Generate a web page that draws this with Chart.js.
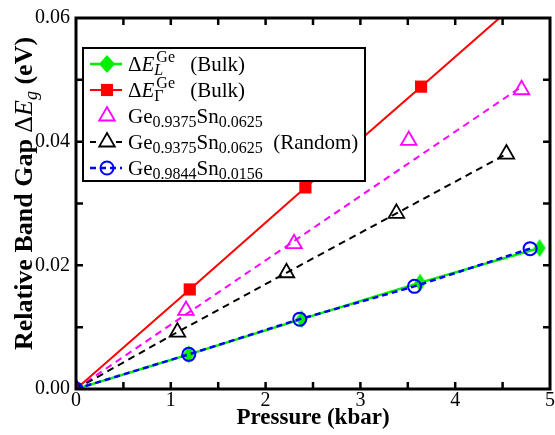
<!DOCTYPE html>
<html><head><meta charset="utf-8">
<script src="https://cdn.jsdelivr.net/npm/chart.js@4.4.1/dist/chart.umd.min.js"></script>
<style>html,body{margin:0;padding:0;background:#fff;}canvas{display:block;}</style>
</head><body>
<canvas id="c" width="555" height="435"></canvas>
<script>
// ---- data ----
const pressureL = [0, 1.19, 2.38, 3.63, 4.89];
const gapL      = [0, 0.0056, 0.0113, 0.0172, 0.0228];
const pressureG = [0, 1.20, 2.42, 3.64, 4.87];
const gapG      = [0, 0.0161, 0.0326, 0.0489, 0.0654];
const pressureA = [0, 1.16, 2.30, 3.51, 4.70];
const gapA      = [0, 0.0127, 0.0235, 0.0402, 0.0484];
const pressureAFit = [0, 4.70];
const gapAFit      = [0, 0.0489];
const pressureR = [0, 1.07, 2.22, 3.38, 4.54];
const gapR      = [0, 0.0092, 0.0188, 0.0284, 0.0380];
const pressureB = [0, 1.19, 2.36, 3.57, 4.79];
const gapB      = [0, 0.0056, 0.0113, 0.0166, 0.0227];
const xTickLabels = [0, 1, 2, 3, 4, 5];
const yTickLabels = [0, 0.02, 0.04, 0.06];

const SERIF = "'Liberation Serif', 'Times New Roman', serif";
const pts = (xs, ys) => xs.map((x, i) => ({x, y: ys[i]}));

function diamondImg(hw, hh, color) {
  const c = document.createElement('canvas');
  c.width = 2 * hw + 2; c.height = 2 * hh + 2;
  const g = c.getContext('2d');
  g.fillStyle = color;
  g.beginPath();
  g.moveTo(hw + 1, 1); g.lineTo(2 * hw + 1, hh + 1);
  g.lineTo(hw + 1, 2 * hh + 1); g.lineTo(1, hh + 1);
  g.closePath(); g.fill();
  return c;
}
const GREEN = '#00f000';
const diamond = diamondImg(6, 9, GREEN);
const diamondLeg = diamondImg(8, 9, GREEN);

const datasets = [
  {label: 'L', data: pts(pressureL, gapL), borderColor: GREEN, borderWidth: 2.5,
   pointStyle: diamond, pointRadius: 8, backgroundColor: GREEN, order: 6},
  {label: 'G', data: pts(pressureG, gapG), borderColor: '#ff0000', borderWidth: 2,
   pointStyle: 'rect', pointRadius: 8.6, pointBackgroundColor: '#ff0000', pointBorderWidth: 0, order: 5},
  {label: 'Afit', data: pts(pressureAFit, gapAFit), borderColor: '#ff00ff', borderWidth: 2,
   borderDash: [7, 5], pointRadius: 0, order: 4},
  {label: 'A', data: pts(pressureA, gapA), showLine: false, borderColor: '#ff00ff',
   pointStyle: 'triangle', pointRadius: 9, pointBorderWidth: 1.8,
   pointBackgroundColor: 'rgba(0,0,0,0)', pointBorderColor: '#ff00ff', order: 3},
  {label: 'R', data: pts(pressureR, gapR), borderColor: '#000000', borderWidth: 2,
   borderDash: [7, 5], pointStyle: 'triangle', pointRadius: 9, pointBorderWidth: 1.8,
   pointBackgroundColor: 'rgba(0,0,0,0)', pointBorderColor: '#000000', order: 2},
  {label: 'B', data: pts(pressureB, gapB), borderColor: '#0000ff', borderWidth: 2.5,
   borderDash: [6, 4], pointStyle: 'circle', pointRadius: 6.5, pointBorderWidth: 2,
   pointBackgroundColor: 'rgba(0,0,0,0)', pointBorderColor: '#0000ff', order: 1}
];

// ---- rich text helper (sub/superscripts) ----
function font(size, italic, bold) {
  return (italic ? 'italic ' : '') + (bold ? 'bold ' : '') + size + 'px ' + SERIF;
}
function drawRich(ctx, x, y, parts, main, script, measureOnly) {
  let cx = x;
  for (const p of parts) {
    if (p.gap) cx += p.gap;
    if (p.t !== undefined) {
      ctx.font = font(main, p.i, p.b);
      if (!measureOnly) ctx.fillText(p.t, cx, y);
      cx += ctx.measureText(p.t).width;
    } else {
      let w = 0;
      if (p.sup) {
        ctx.font = font(script, false, false);
        if (!measureOnly) ctx.fillText(p.sup, cx + 2, y - main * 0.42);
        w = Math.max(w, ctx.measureText(p.sup).width + 2);
      }
      if (p.sub) {
        ctx.font = font(script, p.si, false);
        if (!measureOnly) ctx.fillText(p.sub, cx, y + main * 0.2);
        w = Math.max(w, ctx.measureText(p.sub).width);
      }
      cx += w;
    }
  }
  return cx - x;
}

const legendRows = [
  {ds: 0, line: 'solid', parts: [{t: 'Δ'}, {t: 'E', i: true}, {sup: 'Ge', sub: 'L', si: true}, {t: ' (Bulk)', gap: 10}]},
  {ds: 1, line: 'solid', parts: [{t: 'Δ'}, {t: 'E', i: true}, {sup: 'Ge', sub: 'Γ'}, {t: ' (Bulk)', gap: 10}]},
  {ds: 3, line: 'none',  parts: [{t: 'Ge'}, {sub: '0.9375'}, {t: 'Sn'}, {sub: '0.0625'}]},
  {ds: 4, line: 'ends',  parts: [{t: 'Ge'}, {sub: '0.9375'}, {t: 'Sn'}, {sub: '0.0625'}, {t: '  (Random)'}]},
  {ds: 5, line: 'dash',  parts: [{t: 'Ge'}, {sub: '0.9844'}, {t: 'Sn'}, {sub: '0.0156'}]}
];

const decor = {
  id: 'decor',
  afterDatasetsDraw(chart) {
    const {ctx, chartArea: a, scales} = chart;
    ctx.save();
    ctx.strokeStyle = '#000'; ctx.lineWidth = 2.5; ctx.setLineDash([]);
    const L = 7;
    scales.x.ticks.forEach(t => {
      if (t.value <= scales.x.min || t.value >= scales.x.max) return;
      const px = scales.x.getPixelForValue(t.value);
      ctx.beginPath();
      ctx.moveTo(px, a.bottom); ctx.lineTo(px, a.bottom - L);
      ctx.moveTo(px, a.top); ctx.lineTo(px, a.top + L);
      ctx.stroke();
    });
    scales.y.ticks.forEach(t => {
      if (t.value <= scales.y.min + 1e-9 || t.value >= scales.y.max - 1e-9) return;
      const py = scales.y.getPixelForValue(t.value);
      ctx.beginPath();
      ctx.moveTo(a.left, py); ctx.lineTo(a.left + L, py);
      ctx.moveTo(a.right, py); ctx.lineTo(a.right - L, py);
      ctx.stroke();
    });
    ctx.lineWidth = 3;
    ctx.strokeRect(a.left, a.top, a.right - a.left, a.bottom - a.top);

    const x0 = a.left + 7, y0 = a.top + 30, w = 282, h = 133;
    ctx.fillStyle = '#fff'; ctx.fillRect(x0, y0, w, h);
    ctx.lineWidth = 2; ctx.strokeStyle = '#000'; ctx.strokeRect(x0, y0, w, h);
    legendRows.forEach((r, i) => {
      const cy = y0 + 16 + i * 26;
      const ds = chart.data.datasets[r.ds];
      const mx = x0 + 24;
      ctx.strokeStyle = ds.borderColor; ctx.lineWidth = ds.borderWidth || 2;
      if (r.line !== 'none') {
        if (r.line === 'solid') ctx.setLineDash([]);
        else if (r.line === 'ends') ctx.setLineDash([6, 20]);
        else ctx.setLineDash([6, 4]);
        ctx.beginPath(); ctx.moveTo(x0 + 7, cy); ctx.lineTo(x0 + 39, cy); ctx.stroke();
      }
      ctx.setLineDash([]);
      let style = ds.pointStyle;
      if (style === diamond) style = diamondLeg;
      ctx.fillStyle = ds.pointBackgroundColor || ds.backgroundColor;
      ctx.strokeStyle = ds.pointBorderColor || ds.borderColor;
      ctx.lineWidth = ds.pointBorderWidth || 0;
      Chart.helpers.drawPoint(ctx, {pointStyle: style, radius: ds.pointRadius,
        borderWidth: ds.pointBorderWidth || 0, rotation: 0}, mx, cy);
      ctx.fillStyle = '#000'; ctx.textBaseline = 'alphabetic'; ctx.textAlign = 'left';
      drawRich(ctx, x0 + 45, cy + 7, r.parts, 21, 16);
    });
    ctx.restore();
  },
  afterDraw(chart) {
    const {ctx, chartArea: a} = chart;
    const parts = [{t: 'Relative Band Gap ', b: true}, {t: 'Δ'}, {t: 'E', i: true},
                   {sub: 'g', si: true}, {t: ' (eV)', b: true}];
    ctx.save();
    ctx.fillStyle = '#000'; ctx.textBaseline = 'alphabetic'; ctx.textAlign = 'left';
    const tw = drawRich(ctx, 0, 0, parts, 26, 18, true);
    const cy = (a.top + a.bottom) / 2 - 10;
    ctx.translate(32, cy); ctx.rotate(-Math.PI / 2);
    drawRich(ctx, -tw / 2, 0, parts, 26, 18);
    ctx.restore();
  }
};

new Chart(document.getElementById('c'), {
  type: 'line',
  data: {datasets},
  options: {
    responsive: false, animation: false, devicePixelRatio: 1,
    layout: {autoPadding: false, padding: {left: 0, right: 4, top: 15, bottom: 3}},
    plugins: {legend: {display: false}, tooltip: {enabled: false}},
    elements: {line: {tension: 0}},
    scales: {
      x: {
        type: 'linear', min: 0, max: 5,
        ticks: {stepSize: 0.5, autoSkip: false, maxRotation: 0, padding: 0, color: '#000',
                font: {family: SERIF, size: 20},
                callback: v => xTickLabels.some(t => Math.abs(t - v) < 1e-9) ? String(Math.round(v)) : ''},
        grid: {display: false, drawTicks: false}, border: {display: false},
        title: {display: true, text: 'Pressure (kbar)', color: '#000',
                font: {family: SERIF, size: 23, weight: 'bold'}, padding: {top: 0, bottom: 0}},
        afterFit(s) { s.height = 43; }
      },
      y: {
        type: 'linear', min: 0, max: 0.06,
        ticks: {stepSize: 0.01, autoSkip: false, padding: 6, color: '#000',
                font: {family: SERIF, size: 20},
                callback: v => yTickLabels.some(t => Math.abs(t - v) < 1e-9) ? v.toFixed(2) : ''},
        grid: {display: false, drawTicks: false}, border: {display: false},
        afterFit(s) { s.width = 76; }
      }
    }
  },
  plugins: [decor]
});
</script>
</body></html>
